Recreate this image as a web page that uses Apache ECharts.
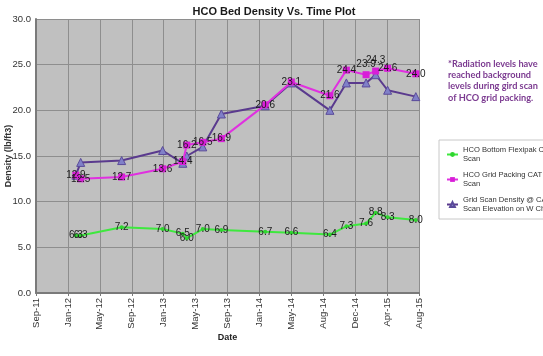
<!DOCTYPE html>
<html>
<head>
<meta charset="utf-8">
<script src="https://cdn.jsdelivr.net/npm/echarts@6/dist/echarts.min.js"></script>
<style>html,body{margin:0;padding:0;background:#fff;}#c{width:543px;height:356px;}</style>
</head>
<body>
<div id="c"></div>
<script>
const dates = ['2012-01-29','2012-02-16','2012-07-19','2012-12-20','2013-03-06','2013-03-21','2013-05-20','2013-07-29','2014-01-10','2014-04-18','2014-09-10','2014-11-11','2015-01-24','2015-03-01','2015-04-15','2015-07-30'];
const flexipak    = [6.3, 6.3, 7.2, 7.0, 6.5, 6.0, 7.0, 6.9, 6.7, 6.6, 6.4, 7.3, 7.6, 8.8, 8.3, 8.0];
const gridPacking = [12.9, 12.5, 12.7, 13.6, 14.4, 16.2, 16.5, 16.9, 20.6, 23.1, 21.6, 24.4, 23.9, 24.3, 24.6, 24.0];
const gridScan    = [12.9, 14.3, 14.5, 15.6, 14.2, 15.0, 16.0, 19.6, 20.5, 23.0, 20.0, 23.0, 23.0, 23.9, 22.2, 21.5];
const tickLabels  = ['Sep-11','Jan-12','May-12','Sep-12','Jan-13','May-13','Sep-13','Jan-14','May-14','Aug-14','Dec-14','Apr-15','Aug-15'];
const seriesNames = ['HCO Bottom Flexipak CAT Scan','HCO Grid Packing CAT Scan','Grid Scan Density @ CAT Scan Elevation on W Chord'];
const legendNames = ['HCO Bottom Flexipak CAT\nScan','HCO Grid Packing CAT\nScan','Grid Scan Density @ CAT\nScan Elevation on W Chord'];
const noteLines = ['*Radiation levels have','reached background','levels during gird scan','of HCO grid packing.'];

const axisStart = Date.UTC(2011, 8, 1);
const stepDays = 120;
function dayOf(s){ return (Date.parse(s + 'T00:00:00Z') - axisStart) / 864e5; }
function pts(vals){ return dates.map((d,i)=>[dayOf(d), vals[i]]); }

const topLabelIdx = [12, 13]; // labels shown above the marker for the pink series

const chart = echarts.init(document.getElementById('c'), null, {renderer:'canvas'});
const labelStyle = {show:true, position:'inside', color:'#1a1a1a', fontSize:10, fontFamily:'Liberation Sans, Arial',
  formatter: p => p.value[1].toFixed(1)};

chart.setOption({
  animation:false,
  backgroundColor:'#ffffff',
  title:{text:'HCO Bed Density Vs. Time Plot', left:269, top:1, textAlign:'center',
    textStyle:{fontSize:11, fontWeight:'bold', color:'#1a1a1a', fontFamily:'Liberation Sans, Arial'}},
  grid:{left:36, right:124, top:19, bottom:63, show:true, backgroundColor:'#c0c0c0', borderWidth:0,
    containLabel:false, outerBoundsMode:'none'},
  xAxis:{type:'value', min:0, max:stepDays*(tickLabels.length-1), interval:stepDays,
    name:'Date', nameLocation:'middle', nameGap:40, nameMoveOverlap:false,
    nameTextStyle:{fontSize:9, fontWeight:'bold', color:'#222', fontFamily:'Liberation Sans, Arial'},
    axisLine:{show:true, onZero:false, lineStyle:{color:'#7a7a7a', width:2}},
    axisTick:{show:true, length:3, lineStyle:{color:'#7a7a7a'}},
    splitLine:{show:true, lineStyle:{color:'#8e8e8e', width:1}},
    axisLabel:{rotate:90, fontSize:9.5, color:'#333', margin:5, fontFamily:'Liberation Sans, Arial',
      formatter: v => tickLabels[Math.round(v/stepDays)] || ''}},
  yAxis:{type:'value', min:0, max:30, interval:5,
    name:'Density (lb/ft3)', nameLocation:'middle', nameGap:23, nameMoveOverlap:false,
    nameTextStyle:{fontSize:9, fontWeight:'bold', color:'#333', fontFamily:'Liberation Sans, Arial'},
    axisLine:{show:true, lineStyle:{color:'#7a7a7a', width:2}},
    axisTick:{show:false},
    splitLine:{show:true, lineStyle:{color:'#8e8e8e', width:1}},
    axisLabel:{fontSize:9.5, color:'#333', margin:5, fontFamily:'Liberation Sans, Arial', formatter: v => v.toFixed(1)}},
  legend:{orient:'vertical', left:439, top:140, backgroundColor:'#ffffff', borderColor:'#c8c8c8', borderWidth:1,
    padding:[5,4,5,7], itemGap:6, itemWidth:11, itemHeight:6,
    textStyle:{fontSize:7.6, color:'#333', lineHeight:9.5, fontFamily:'Liberation Sans, Arial'},
    formatter: n => legendNames[seriesNames.indexOf(n)],
    data: seriesNames},
  graphic:[{type:'text', left:448, top:58,
    style:{text: noteLines.join('\n'), fill:'#7b3a90', font:'bold 9.2px Lato, sans-serif', lineHeight:11.3}}],
  series:[
    {name:seriesNames[0], type:'line', data:pts(flexipak), symbol:'circle', symbolSize:4,
      lineStyle:{color:'#3ee83e', width:2}, itemStyle:{color:'#2fd62f'}, label:labelStyle, z:3},
    {name:seriesNames[1], type:'line', z:4,
      data: pts(gridPacking).map((p,i)=> topLabelIdx.includes(i) ? {value:p, label:{position:'top', distance:2}} : p),
      symbol:'rect', symbolSize:7,
      lineStyle:{color:'#e030e0', width:2}, itemStyle:{color:'#d81ed8'}, label:labelStyle},
    {name:seriesNames[2], type:'line', data:pts(gridScan), symbol:'triangle', symbolSize:8, z:2,
      lineStyle:{color:'#5a3a8e', width:2}, itemStyle:{color:'#8080c8', borderColor:'#5a4a9a', borderWidth:1},
      label:{show:false}}
  ]
});
</script>
</body>
</html>
